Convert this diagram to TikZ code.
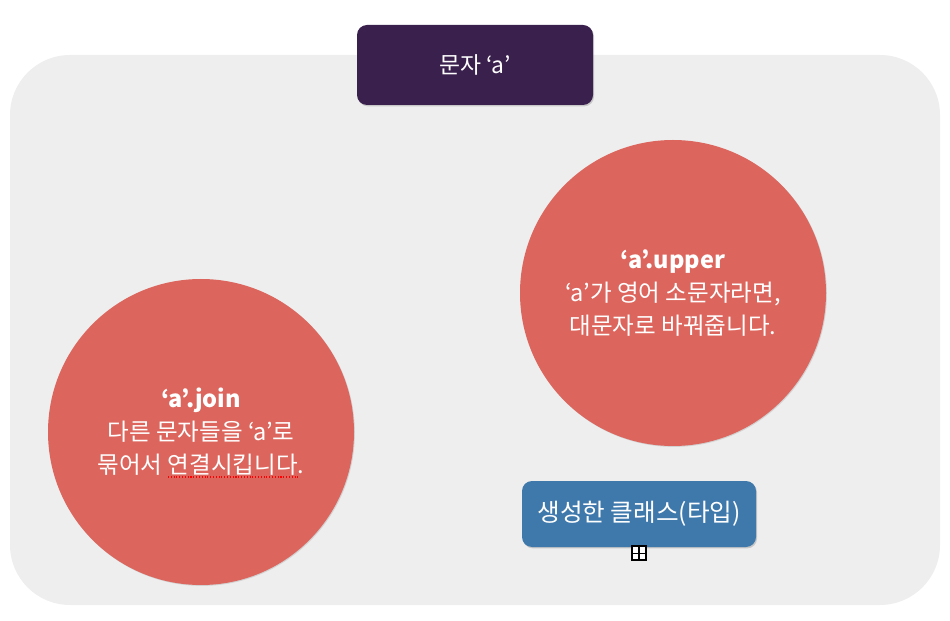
\documentclass[tikz,border=0pt]{standalone}
\usepackage{fontspec}
\setmainfont{Noto Sans CJK KR}
\usetikzlibrary{shadows, positioning}

\definecolor{panelgrey}{HTML}{EEEEEE}
\definecolor{classpurple}{HTML}{3A204C}
\definecolor{methodred}{HTML}{DC665D}
\definecolor{typeblue}{HTML}{3F79AC}

\tikzset{
  method/.style={circle, fill=methodred, minimum size=306*0.02cm, align=center,
    text=white, font=\fontsize{13.4}{18.8}\selectfont,
    drop shadow={opacity=0.25, shadow xshift=0.5pt, shadow yshift=-0.5pt}},
  labelbox/.style={rounded corners=10*0.02cm, text=white, align=center,
    drop shadow={opacity=0.35, shadow xshift=0.6pt, shadow yshift=-0.8pt}}
}

\begin{document}
\begin{tikzpicture}[x=0.02cm, y=-0.02cm]
\useasboundingbox (0,0) rectangle (950,621);

% Draw the background panel
\fill[panelgrey, rounded corners=60*0.02cm] (10,55) rectangle (940,605);

% The class box on top
\node[labelbox, fill=classpurple, minimum width=236*0.02cm, minimum height=80*0.02cm,
  font=\fontsize{13}{15}\selectfont] (str) at (475,65) {문자 ‘a’};

% The two methods
\node[method] (upper) at (673,293) {\textbf{‘a’.upper}\\‘a’가 영어 소문자라면,\\대문자로 바꿔줍니다.};
\node[method] (join) at (201,432) {\textbf{‘a’.join}\\다른 문자들을 ‘a’로\\묶어서 연결시킵니다.};

% Spell-check mark under the last words
\draw[red, densely dotted, line width=0.6pt] (168,477) -- (300,477);

% The type box
\node[labelbox, fill=typeblue, minimum width=234*0.02cm, minimum height=66*0.02cm,
  font=\fontsize{14}{16}\selectfont] (type) at (639,514) {생성한 클래스(타입)};

% Small handle below the type box
\node[draw=black, fill=white, line width=0.8pt, minimum size=0.28cm, inner sep=0pt,
  below=-0.04cm of type] (handle) {};
\draw[line width=0.6pt, shorten <=1.2pt, shorten >=1.2pt] (handle.north) -- (handle.south);
\draw[line width=0.6pt, shorten <=1.2pt, shorten >=1.2pt] (handle.west) -- (handle.east);

\end{tikzpicture}
\end{document}
